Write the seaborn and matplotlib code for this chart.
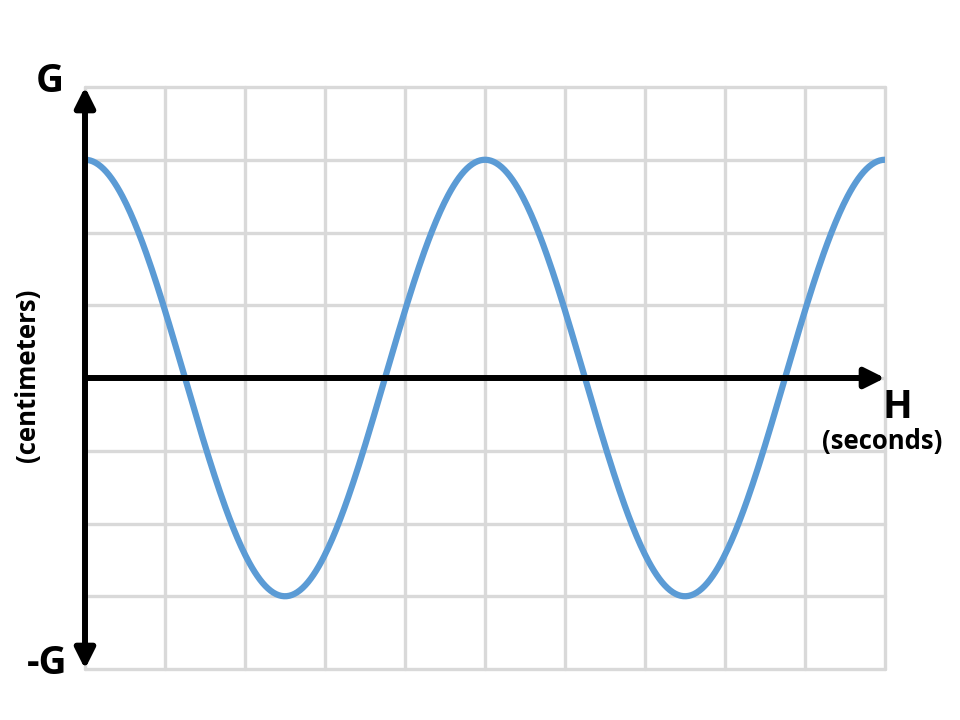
import numpy as np
import matplotlib
matplotlib.use("Agg")
import matplotlib.pyplot as plt
import seaborn as sns

# grid extent (in grid squares) and the wave
x_cells = 10
y_cells = 4
amplitude = 3.0      # crest sits 3 squares above the axis
period = 5.0         # one full wave every 5 squares
phase = 0.0          # crest at x = 0

y_top_label = "G"
y_bottom_label = "-G"
y_axis_title = "(centimeters)"
x_axis_label = "H"
x_axis_title = "(seconds)"

sns.set_style("white")
plt.rcParams["font.family"] = ["Open Sans", "DejaVu Sans"]
plt.rcParams["text.color"] = "black"

fig = plt.figure(figsize=(9.6, 7.2), dpi=100)
ax = fig.add_axes([85 / 960, 51 / 720, 800 / 960, 582 / 720])

# wave
x = np.linspace(0, x_cells, 600)
y = amplitude * np.cos(2 * np.pi * (x - phase) / period)
sns.lineplot(x=x, y=y, ax=ax, color="#5B9BD5", linewidth=4.5,
             solid_capstyle="round", zorder=3)

ax.set_xlim(0, x_cells)
ax.set_ylim(-y_cells, y_cells)
ax.set_xticks(np.arange(0, x_cells + 1))
ax.set_yticks(np.arange(-y_cells, y_cells + 1))
ax.grid(True, color="#D9D9D9", linewidth=2.4, zorder=0)
for gl in ax.get_xgridlines() + ax.get_ygridlines():
    gl.set_clip_on(False)
ax.tick_params(length=0, labelbottom=False, labelleft=False)
for sp in ax.spines.values():
    sp.set_visible(False)
ax.set_xlabel("")
ax.set_ylabel("")

# axes with arrows
ax.annotate("", xy=(0, y_cells), xytext=(0, -y_cells),
            arrowprops=dict(arrowstyle="<|-|>,head_length=0.6,head_width=0.3",
                            color="black", lw=4.3, shrinkA=0, shrinkB=0,
                            mutation_scale=20), annotation_clip=False, zorder=4)
ax.annotate("", xy=(x_cells, 0), xytext=(0, 0),
            arrowprops=dict(arrowstyle="-|>,head_length=0.6,head_width=0.3",
                            color="black", lw=4.3, shrinkA=0, shrinkB=0,
                            mutation_scale=20), annotation_clip=False, zorder=4)

# labels
fig.text(50 / 960, 1 - 82 / 720, y_top_label, fontsize=28, fontweight="bold",
         ha="center", va="center")
fig.text(47 / 960, 1 - 663 / 720, y_bottom_label, fontsize=28, fontweight="bold",
         ha="center", va="center")
fig.text(897 / 960, 1 - 407 / 720, x_axis_label, fontsize=28, fontweight="bold",
         ha="center", va="center")
fig.text(882 / 960, 1 - 442 / 720, x_axis_title, fontsize=18.5, fontweight="bold",
         ha="center", va="center")
fig.text(28 / 960, 1 - 375 / 720, y_axis_title, fontsize=18.5, fontweight="bold",
         ha="center", va="center", rotation=90)

fig.savefig("out.png", dpi=100)
